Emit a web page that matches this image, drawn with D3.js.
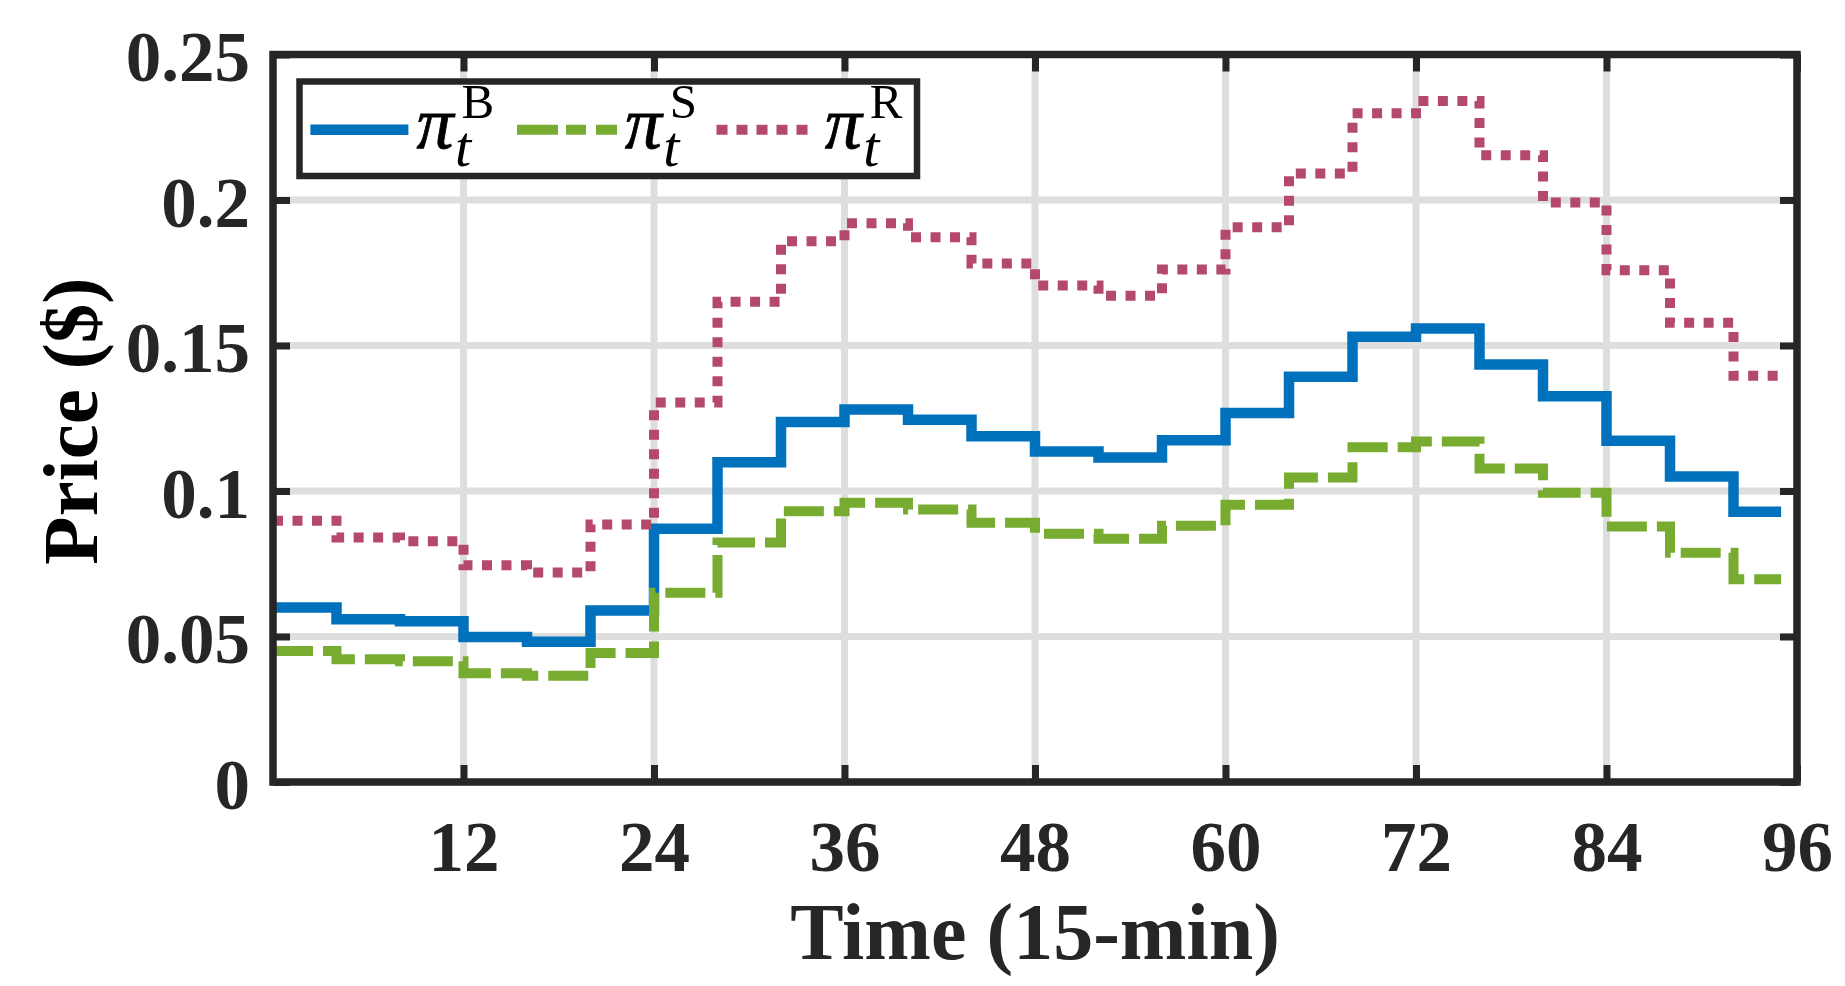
<!DOCTYPE html>
<html><head><meta charset="utf-8">
<script src="https://cdn.jsdelivr.net/npm/d3@7"></script>
<style>html,body{margin:0;padding:0;background:#fff;} svg{display:block}</style>
</head><body>
<svg id="chart" width="1845" height="986"></svg>
<script>
// ---- data ----
const hourStarts = [0,4,8,12,16,20,24,28,32,36,40,44,48,52,56,60,64,68,72,76,80,84,88,92];
const endSlot = 95;
const buyPrice = [0.0600,0.0559,0.0552,0.0498,0.0482,0.0589,0.0870,0.1099,0.1237,0.1280,0.1245,0.1188,0.1136,0.1115,0.1174,0.1268,0.1393,0.1530,0.1558,0.1435,0.1326,0.1173,0.1050,0.0929];
const sellPrice = [0.0450,0.0422,0.0415,0.0374,0.0365,0.0443,0.0650,0.0823,0.0930,0.0960,0.0936,0.0891,0.0853,0.0836,0.0881,0.0953,0.1046,0.1150,0.1170,0.1077,0.0994,0.0878,0.0788,0.0697];
const retailPrice = [0.0898,0.0840,0.0827,0.0745,0.0720,0.0885,0.1304,0.1650,0.1858,0.1920,0.1872,0.1782,0.1706,0.1671,0.1761,0.1906,0.2091,0.2298,0.2340,0.2154,0.1991,0.1759,0.1578,0.1396];
const xTicks = [12,24,36,48,60,72,84,96];
const yTicks = [0,0.05,0.1,0.15,0.2,0.25];
const yTickLabels = ["0","0.05","0.1","0.15","0.2","0.25"];
const seriesNames = ["B","S","R"];
const xLabel = "Time (15-min)";
const yLabel = "Price ($)";

// ---- layout ----
const L=273,R=1797,T=54.5,B=782;
const axisColor="#262626", gridColor="#DEDEDE";
const colors = {B:"#0072BD", S:"#77AC30", R:"#B4496C"};
const svg = d3.select("#chart");
const x = d3.scaleLinear().domain([0,96]).range([L,R]);
const y = d3.scaleLinear().domain([0,0.25]).range([B,T]);
const serif = "'Liberation Serif','Times New Roman',serif";

// grid
svg.append("g").selectAll("line").data(xTicks).join("line")
  .attr("x1",d=>x(d)).attr("x2",d=>x(d)).attr("y1",T).attr("y2",B)
  .attr("stroke",gridColor).attr("stroke-width",7);
svg.append("g").selectAll("line").data(yTicks).join("line")
  .attr("y1",d=>y(d)).attr("y2",d=>y(d)).attr("x1",L).attr("x2",R)
  .attr("stroke",gridColor).attr("stroke-width",7);

// series
function stepPoints(vals){
  const pts = hourStarts.map((h,i)=>[h, vals[i]]);
  pts.push([endSlot, vals[vals.length-1]]);
  return pts;
}
const line = d3.line().x(d=>x(d[0])).y(d=>y(d[1])).curve(d3.curveStepAfter);
svg.append("path").attr("d",line(stepPoints(buyPrice))).attr("fill","none")
  .attr("stroke",colors.B).attr("stroke-width",10.5).attr("stroke-linejoin","miter");
svg.append("path").attr("d",line(stepPoints(sellPrice))).attr("fill","none")
  .attr("stroke",colors.S).attr("stroke-width",10).attr("stroke-dasharray","40 10");
svg.append("path").attr("d",line(stepPoints(retailPrice))).attr("fill","none")
  .attr("stroke",colors.R).attr("stroke-width",10).attr("stroke-dasharray","10 9.5");

// axes
const tickLen = 17;
function styleAxis(g){
  g.select(".domain").remove();
  g.selectAll(".tick line").attr("stroke",axisColor).attr("stroke-width",7);
  g.selectAll(".tick text").attr("font-family",serif).attr("font-weight","bold")
   .attr("font-size",71).attr("fill",axisColor);
}
const gx = svg.append("g").attr("transform",`translate(0,${B})`)
  .call(d3.axisBottom(x).tickValues(xTicks).tickSize(-tickLen).tickPadding(0).tickFormat(d3.format("d")));
styleAxis(gx);
gx.selectAll(".tick text").attr("y",89).attr("dy",null);
const gt = svg.append("g").attr("transform",`translate(0,${T})`)
  .call(d3.axisTop(x).tickValues(xTicks).tickSize(-tickLen).tickFormat(""));
styleAxis(gt);
const gy = svg.append("g").attr("transform",`translate(${L},0)`)
  .call(d3.axisLeft(y).tickValues(yTicks).tickSize(-tickLen).tickPadding(0).tickFormat((d,i)=>yTickLabels[i]));
styleAxis(gy);
gy.selectAll(".tick text").attr("x",-23).attr("y",2).attr("dy","0.34em");
const gr = svg.append("g").attr("transform",`translate(${R},0)`)
  .call(d3.axisRight(y).tickValues(yTicks).tickSize(-tickLen).tickFormat(""));
styleAxis(gr);

// frame
svg.append("rect").attr("x",L).attr("y",T).attr("width",R-L).attr("height",B-T)
  .attr("fill","none").attr("stroke",axisColor).attr("stroke-width",7.5);

// axis labels
svg.append("text").attr("x",(L+R)/2).attr("y",959).attr("text-anchor","middle")
  .attr("font-family",serif).attr("font-weight","bold").attr("font-size",80).attr("fill",axisColor)
  .text(xLabel);
svg.append("text").attr("transform",`translate(97,421) rotate(-90)`).attr("text-anchor","middle")
  .attr("font-family",serif).attr("font-weight","bold").attr("font-size",79).attr("fill","#000")
  .text(yLabel);

// legend
const lg = svg.append("g");
lg.append("rect").attr("x",299.5).attr("y",81.5).attr("width",617.5).attr("height",94.5)
  .attr("fill","#fff").attr("stroke",axisColor).attr("stroke-width",6.5);
const legendItems = [
  {k:"B", x1:310.4, x2:408.4, dash:null, w:10.5, px:416.5},
  {k:"S", x1:517, x2:617, dash:"41 8 20 10 21 0", w:10, px:624.7},
  {k:"R", x1:716.5, x2:807.6, dash:"11 9", w:10, px:824.7}
];
legendItems.forEach(it=>{
  const l = lg.append("line").attr("x1",it.x1).attr("x2",it.x2).attr("y1",129.7).attr("y2",129.7)
    .attr("stroke",colors[it.k]).attr("stroke-width",it.w);
  if(it.dash) l.attr("stroke-dasharray",it.dash);
  const t = lg.append("text").attr("font-family",serif).attr("fill","#000");
  t.append("tspan").attr("x",it.px).attr("y",148).attr("font-style","italic")
    .attr("font-size",74).attr("stroke","#000").attr("stroke-width",0.8).text("\u03C0");
  t.append("tspan").attr("x",it.px+38.5).attr("y",166).attr("font-style","italic")
    .attr("font-size",58).text("t");
  t.append("tspan").attr("x",it.px+45).attr("y",118).attr("font-style","normal")
    .attr("font-size",49).text(it.k);
});
</script>
</body></html>
